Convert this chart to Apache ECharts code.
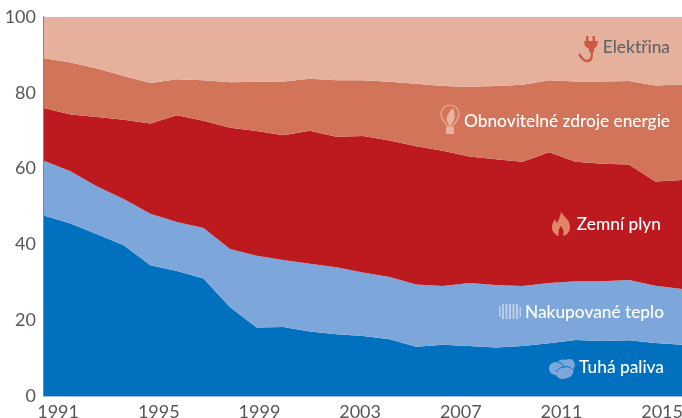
<!DOCTYPE html>
<html>
<head>
<meta charset="utf-8">
<title>Spotřeba energie</title>
<style>
  html, body { margin: 0; padding: 0; background: #fff; }
  #chart { width: 682px; height: 418px; }
</style>
<script src="https://cdn.jsdelivr.net/npm/echarts@6/dist/echarts.min.js"></script>
</head>
<body>
<div id="chart"></div>
<script>
const years = ['1991','1992','1993','1994','1995','1996','1997','1998','1999','2000','2001','2002','2003','2004','2005','2006','2007','2008','2009','2010','2011','2012','2013','2014','2015'];
const yearTicks = [1991, 1995, 1999, 2003, 2007, 2011, 2015];
const yTicks = [0, 20, 40, 60, 80, 100];

const tuhaPaliva = [47.6,45.5,42.7,39.8,34.5,33.0,31.0,23.4,18.1,18.2,17.0,16.3,15.8,15.0,13.0,13.5,13.2,12.8,13.2,13.9,14.8,14.5,14.7,14.0,13.5];
const teplo = [14.5,13.8,12.6,12.2,13.6,12.9,13.3,15.4,18.9,17.7,17.9,17.7,16.8,16.4,16.4,15.5,16.6,16.5,15.8,15.9,15.5,15.8,15.9,15.1,14.7];
const plyn = [13.9,15.0,18.3,20.9,23.8,28.2,28.3,32.0,32.9,32.9,35.1,34.4,36.0,36.0,36.5,35.7,33.4,33.2,32.8,34.5,31.5,31.0,30.5,27.5,28.8];
const oze = [13.1,13.7,12.8,11.5,10.7,9.5,10.7,12.0,13.0,14.2,13.7,14.9,14.7,15.5,16.5,17.1,18.4,19.3,20.3,19.0,21.2,21.7,22.0,25.3,25.2];
const elektrina = [10.9,12.0,13.6,15.6,17.4,16.4,16.7,17.2,17.1,17.0,16.3,16.7,16.7,17.1,17.6,18.2,18.4,18.2,17.9,16.7,17.0,17.0,16.9,18.1,17.8];

const fontName = 'Lato';

let myChart = echarts.init(document.getElementById('chart'));

function areaSeries(name, values, color) {
  return {
    name: name,
    type: 'line',
    stack: 'celkem',
    data: values,
    symbol: 'none',
    lineStyle: { width: 0 },
    areaStyle: { color: color, opacity: 1 },
    silent: true
  };
}

function label(text, right, y, color) {
  return {
    type: 'text',
    right: right,
    top: y,
    z: 20,
    style: { text: text, fill: color, font: '500 17.3px ' + fontName }
  };
}

// graphic neumi typ path, ikony se registruji jako vlastni tvary
let iconCount = 0;
function iconPath(d, fill, stroke, lineWidth) {
  let name = 'ikona' + iconCount++;
  echarts.graphic.registerShape(name, echarts.graphic.extendPath(d, {}));
  return {
    type: name,
    z: 20,
    style: { fill: fill || 'none', stroke: stroke || 'none', lineWidth: lineWidth || 0 }
  };
}

let option = {
  animation: false,
  grid: { left: 44, right: 0, top: 17, bottom: 22, outerBoundsMode: 'none' },
  xAxis: [
    {
      type: 'category',
      boundaryGap: false,
      data: years,
      axisLine: { lineStyle: { color: '#9fc0e4', width: 1 } },
      axisTick: { show: false },
      axisLabel: { show: false },
      splitLine: { show: false }
    },
    {
      // popisky let v originale nesedi presne na data, maji vlastni rozestup
      type: 'value',
      position: 'bottom',
      min: 1990.44,
      max: 2015.79,
      axisLine: { show: false },
      axisTick: { show: false },
      splitLine: { show: false },
      axisLabel: {
        customValues: yearTicks,
        margin: 7,
        color: '#55585b',
        fontFamily: fontName,
        fontSize: 18,
        hideOverlap: false,
        formatter: function (v) { return String(v); }
      }
    }
  ],
  yAxis: {
    type: 'value',
    min: 0,
    max: 100,
    interval: 20,
    axisLine: { show: true, lineStyle: { color: '#5a5d60', width: 1.5 } },
    axisTick: { show: false },
    splitLine: { show: false },
    axisLabel: {
      customValues: yTicks,
      margin: 8,
      color: '#55585b',
      fontFamily: fontName,
      fontSize: 18
    }
  },
  series: [
    areaSeries('Tuhá paliva', tuhaPaliva, '#0070bf'),
    areaSeries('Nakupované teplo', teplo, '#7da7da'),
    areaSeries('Zemní plyn', plyn, '#bc1a1f'),
    areaSeries('Obnovitelné zdroje energie', oze, '#d1745a'),
    areaSeries('Elektřina', elektrina, '#e5b09c')
  ],
  graphic: [
    label('Elektřina', 12, 39, '#5f6468'),
    label('Obnovitelné zdroje energie', 12, 113, '#ffffff'),
    label('Zemní plyn', 21, 216, '#ffffff'),
    label('Nakupované teplo', 18, 304, '#ffffff'),
    label('Tuhá paliva', 18, 359, '#ffffff'),
    // zastrcka
    iconPath('M586 36h2.500v5h-2.500zM592.500 36h2.500v5h-2.500zM584 41h14l-1 5-3 3v3h-5v-3l-4-3z', '#cf5a43'),
    iconPath('M591.500 51c1 6 0 10-4.500 10s-5.500-4-8-7', 'none', '#cf5a43', 2.4),
    // zarovka
    iconPath('M447 126c-2-4-6-7-6-12a9 9 0 0 1 18 0c0 5-4 8-6 12z', 'none', '#e8b3a0', 1.2),
    iconPath('M450 126c-5-5-5-10 3-18 3 7 2 13-3 18z', '#e8b3a0'),
    iconPath('M446 127h8v7h-8z', '#e8b3a0'),
    // plamen
    iconPath('M561 211c1 5 9 8 9 16 0 5-3 8-7 9 1-3 1-6-2-10-3 4-3 7-2 10-4-1-7-4-7-9 0-4 2-6 3-8 1 2 1 3 2 4 2-4 4-8 4-12z', '#e2856b'),
    // radiator
    iconPath('M499 306h1.500v11H499zM502 304h2v15h-2zM505.500 304h2v15h-2zM509 304h2v15h-2zM512.500 304h2v15h-2zM516 304h2v15h-2zM519.500 307h1.500v10h-1.500z', '#b8cfe8'),
    // uhli
    iconPath('M549 368c0-4 4-6 8-6 2-2 6-3 9-2 3-2 7-1 8 2 2 3 0 6-1 8 1 3-1 7-6 8-4 2-9 1-11-3-3 0-7-2-7-7z', '#7da7da'),
    iconPath('M557 362c3 0 6 2 7 5M564 367c3-1 6 0 8 2M556 372c2-3 5-5 8-5', 'none', '#0070bf', 1)
  ]
};

myChart.setOption(option);
</script>
</body>
</html>
